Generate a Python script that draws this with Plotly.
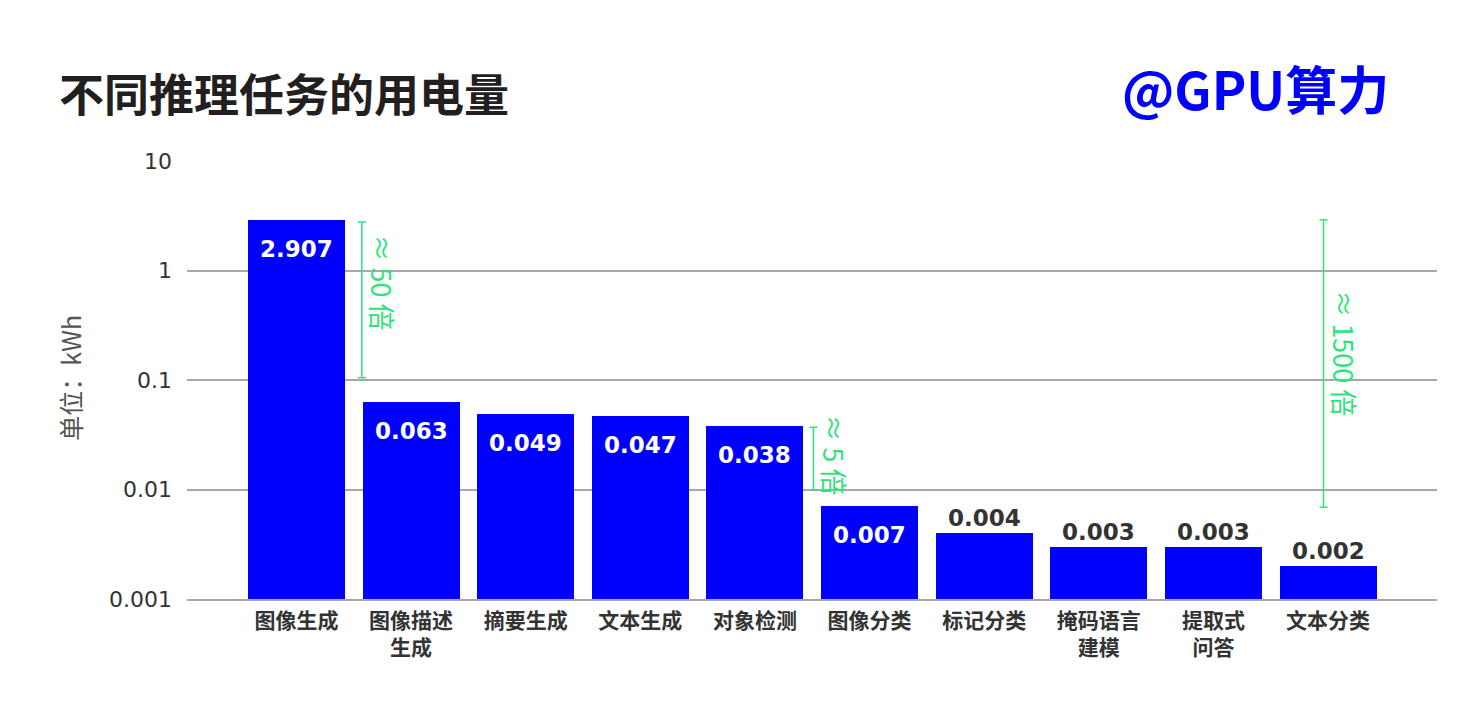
import math
import plotly.graph_objects as go

categories = ["图像生成", "图像描述<br>生成", "摘要生成", "文本生成", "对象检测",
              "图像分类", "标记分类", "掩码语言<br>建模", "提取式<br>问答", "文本分类"]
values = [2.907, 0.063, 0.049, 0.047, 0.038, 0.007, 0.004, 0.003, 0.003, 0.002]
labels = ["2.907", "0.063", "0.049", "0.047", "0.038", "0.007", "0.004", "0.003", "0.003", "0.002"]
inside = [True, True, True, True, True, True, False, False, False, False]

# comparison brackets: (x position in category units, top value, bottom value, text)
brackets_x = [0.57, 4.51, 8.96]
brackets_top = [2.77, 0.037, 2.9]
brackets_bottom = [0.105, 0.0099, 0.0069]
brackets_text = ["≈ 50 倍", "≈ 5 倍", "≈ 1500 倍"]
brackets_text_y = [0.78, 0.0207, 0.177]

tickvals = [0.001, 0.01, 0.1, 1, 10]
ticktext = ["0.001", "0.01", "0.1", "1", "10"]

BLUE = "#0000ff"
GREEN = "#2ee37a"
GRID = "#a8a8a8"
NUM_FONT = "DejaVu Sans"
CJK = "Noto Sans CJK SC"

xs = list(range(len(categories)))
fig = go.Figure()
fig.add_trace(go.Bar(x=xs, y=values, marker=dict(color=BLUE, line=dict(width=0)),
                     width=0.846, hoverinfo="skip"))

for i, (v, t, ins) in enumerate(zip(values, labels, inside)):
    fig.add_annotation(x=i, y=math.log10(v), xref="x", yref="y", text="<b>%s</b>" % t, showarrow=False,
                       yanchor="middle", yshift=-29 if ins else 15,
                       font=dict(family=NUM_FONT, size=23, color="white" if ins else "#333333"))

for bx, top, bot, txt, ty in zip(brackets_x, brackets_top, brackets_bottom, brackets_text, brackets_text_y):
    fig.add_shape(type="line", xref="x", yref="y", x0=bx, x1=bx, y0=bot, y1=top,
                  line=dict(color=GREEN, width=1.5))
    for yy in (top, bot):
        fig.add_shape(type="line", xref="x", yref="y", x0=bx - 0.035, x1=bx + 0.035, y0=yy, y1=yy,
                      line=dict(color=GREEN, width=1.5))
    fig.add_annotation(x=bx, y=math.log10(ty), xref="x", yref="y", text=txt, showarrow=False, textangle=90,
                       xanchor="center", yanchor="middle", xshift=21,
                       font=dict(family=CJK, size=27, color=GREEN))

# title texts
fig.add_annotation(x=-0.104, y=1.157, xref="paper", yref="paper", text="<b>不同推理任务的用电量</b>",
                   showarrow=False, xanchor="left", yanchor="middle",
                   font=dict(family=CJK, size=45, color="#231f20"))
fig.add_annotation(x=0.8546, y=1.167, xref="paper", yref="paper", text="<b>@GPU算力</b>",
                   showarrow=False, xanchor="center", yanchor="middle",
                   font=dict(family=CJK, size=52, color=BLUE))
fig.add_annotation(x=-0.0936, y=0.505, xref="paper", yref="paper", text="单位：kWh",
                   showarrow=False, textangle=-90, xanchor="center", yanchor="middle",
                   font=dict(family=CJK, size=25, color="#555555"))

fig.update_layout(
    width=1464, height=694,
    margin=dict(l=179, r=35, t=153, b=103),
    paper_bgcolor="white", plot_bgcolor="white",
    showlegend=False,
    bargap=0,
    xaxis=dict(range=[-0.955, 9.95], tickvals=xs, ticktext=["<b>%s</b>" % c for c in categories],
               tickfont=dict(family=CJK, size=21, color="#333333"), showgrid=False,
               zeroline=False, showline=True, linecolor=GRID, linewidth=1.5,
               ticks="", ticklabelstandoff=2),
    yaxis=dict(type="log", range=[-3, 1], tickvals=tickvals, ticktext=ticktext,
               tickfont=dict(family=NUM_FONT, size=22, color="#333333"),
               showgrid=True, gridcolor=GRID, gridwidth=1.5, zeroline=False,
               showline=False, ticks="", ticklabelstandoff=14),
)

fig.write_html("out.html")
